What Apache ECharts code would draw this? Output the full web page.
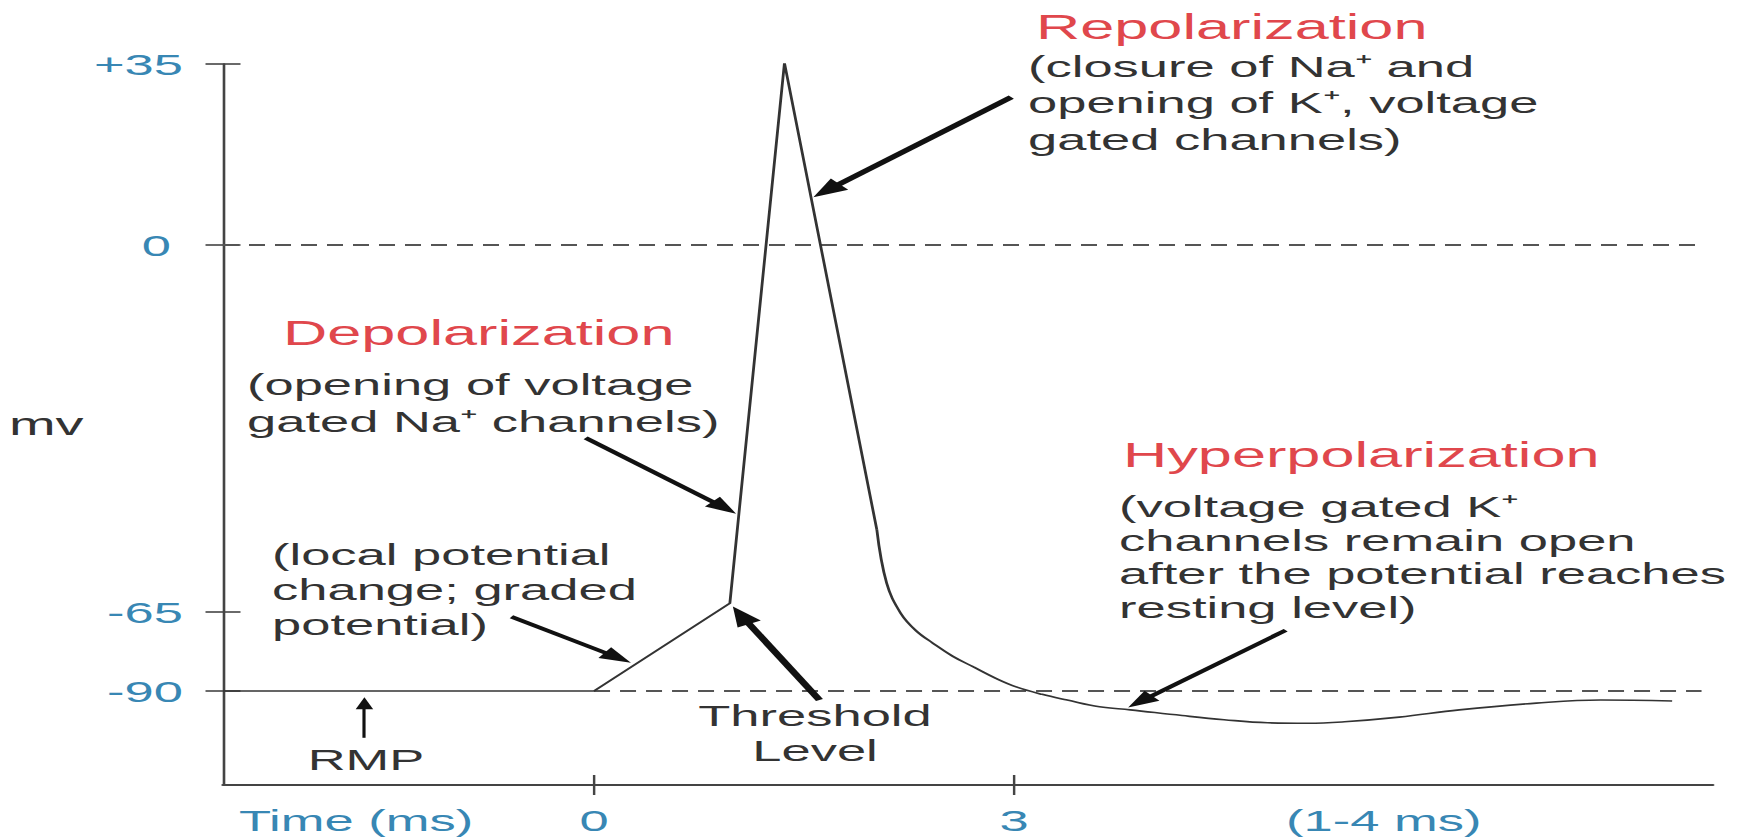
<!DOCTYPE html>
<html lang="en">
<head>
    <meta charset="UTF-8">
    <title>Action potential</title>
    <script src="https://cdn.jsdelivr.net/npm/echarts@6/dist/echarts.min.js"></script>
    <style>
        *{
            padding:0;
            margin:0;
        }
        html,body{
            width:100%;
            height:100%;
            overflow:hidden;
            background:#fff;
        }
        #main{
            height:840px;
            transform-origin:0 0;
        }
    </style>
</head>
<body>
<div id="main"></div>
<script>
    // the source picture is stretched sideways, so the chart is drawn narrow and stretched back
    var S = 1.75;
    var W = 1745 / S;

    // y axis is a schematic (not to scale), ticks sit at these axis levels
    var yTickPos = [35, 0, -71.0, -86.25];
    var yTickLabels = ['+35', '0', '-65', '-90'];
    var xTickPos = [0, 3];
    var xLabelPos = [-1.7, 0, 3, 5.64];
    var xLabelText = ['Time (ms)', '0', '3', '(1-4 ms)'];

    // resting -> graded -> spike -> fall
    var spikeTime = [-2.65, 0, 0.97, 1.36, 2.02];
    var spikeLevel = [-86.25, -86.25, -69.3, 35.2, -55.1];
    // after-potential
    var recoveryTime = [2.02, 2.09, 2.19, 2.30, 2.42, 2.56, 2.71, 2.87, 3.02, 3.20, 3.38, 3.61, 3.83, 4.20, 4.50, 4.81, 5.10, 5.36, 5.75, 6.18, 6.73, 7.19, 7.70];
    var recoveryLevel = [-55.1, -65.4, -71.2, -74.6, -77.0, -79.5, -81.6, -83.8, -85.5, -86.9, -88.0, -89.3, -89.9, -91.0, -91.8, -92.4, -92.5, -92.2, -91.3, -89.9, -88.6, -88.0, -88.2];

    var xMin = -2.65, xMax = 7.99, yMin = -104.43, yMax = 35;
    var guideEnd = 7.91;

    // annotation arrows [from, to] in axis units
    var arrows = [
        {from: [2.98, 28.6], to: [1.66, 10.5], width: 4.5, head: [15, 20]},
        {from: [-0.06, -37.3], to: [0.93, -50.8], width: 3.5, head: [13, 18]},
        {from: [-0.59, -71.9], to: [0.17, -79.8], width: 3.5, head: [13, 18]},
        {from: [1.61, -88.0], to: [1.05, -71.6], width: 4.5, head: [15, 20]},
        {from: [-1.64, -95.3], to: [-1.64, -88.6], width: 1.8, head: [10, 12]},
        {from: [4.94, -74.5], to: [3.9, -88.3], width: 3.5, head: [13, 18]}
    ];

    function zip(a, b) {
        return a.map(function (v, i) { return [v, b[i]]; });
    }
    function px(v) { return v / S; }

    var main = document.getElementById('main');
    main.style.width = W + 'px';
    main.style.transform = 'scaleX(' + S + ')';

    var font = '"Liberation Sans", Arial, sans-serif';
    var blue = '#3887b4';
    var red = '#e0474c';
    var ink = '#333';
    var axisColor = '#444';

    function block(x, y, text, size, color, lh, align) {
        return {
            type: 'text',
            x: px(x),
            y: y,
            silent: true,
            style: {
                text: text,
                fill: color,
                font: size + 'px ' + font,
                lineHeight: lh,
                textAlign: align || 'left',
                textVerticalAlign: 'top'
            }
        };
    }

    var myChart = echarts.init(main, null, {renderer: 'svg'});
    option = {
        animation: false,
        grid: {
            left: px(223),
            right: px(1745 - 1713),
            top: 64,
            bottom: 55,
            outerBoundsMode: 'none'
        },
        xAxis: [
            {
                type: 'value',
                min: xMin,
                max: xMax,
                position: 'bottom',
                axisLine: {onZero: false, lineStyle: {color: axisColor, width: 2}},
                axisTick: {customValues: xTickPos, length: 10, lineStyle: {color: axisColor, width: 1.4}},
                axisLabel: {
                    customValues: xLabelPos,
                    formatter: function (v) {
                        var i = xLabelPos.findIndex(function (p) { return Math.abs(p - v) < 1e-6; });
                        return i >= 0 ? xLabelText[i] : '';
                    },
                    color: blue,
                    fontSize: 30,
                    fontFamily: font,
                    margin: 20
                },
                splitLine: {show: false}
            },
            {
                type: 'value',
                min: xMin,
                max: xMax,
                position: 'bottom',
                axisLine: {show: false, onZero: false},
                axisTick: {inside: true, customValues: xTickPos, length: 10, lineStyle: {color: axisColor, width: 1.4}},
                axisLabel: {show: false},
                splitLine: {show: false}
            }
        ],
        yAxis: [
            {
                type: 'value',
                min: yMin,
                max: yMax,
                position: 'left',
                name: 'mv',
                nameLocation: 'middle',
                nameRotate: 0,
                nameGap: px(107),
                nameTextStyle: {color: ink, fontSize: 32, fontFamily: font},
                axisLine: {onZero: false, lineStyle: {color: axisColor, width: 1.5}},
                axisTick: {customValues: yTickPos, length: 10, lineStyle: {color: axisColor, width: 1.6}},
                axisLabel: {
                    customValues: yTickPos,
                    formatter: function (v) {
                        var i = yTickPos.findIndex(function (p) { return Math.abs(p - v) < 1e-6; });
                        if (i < 0) return '';
                        // the single "0" sits a little further out than the others
                        return i === 1 ? '{z|' + yTickLabels[i] + '}' : yTickLabels[i];
                    },
                    rich: {
                        z: {color: blue, fontSize: 30, fontFamily: font, padding: [0, px(12), 0, 0]}
                    },
                    color: blue,
                    fontSize: 30,
                    fontFamily: font,
                    margin: px(40)
                },
                splitLine: {show: false}
            },
            {
                type: 'value',
                min: yMin,
                max: yMax,
                position: 'left',
                axisLine: {show: false, onZero: false},
                axisTick: {inside: true, customValues: yTickPos, length: 10, lineStyle: {color: axisColor, width: 1.6}},
                axisLabel: {show: false},
                splitLine: {show: false}
            }
        ],
        series: [
            {
                name: 'zero',
                type: 'line',
                data: [[xMin, yTickPos[1]], [guideEnd, yTickPos[1]]],
                symbol: 'none',
                lineStyle: {color: '#555', width: 2, type: [px(16), px(10)]},
                z: 1
            },
            {
                name: 'rest',
                type: 'line',
                data: [[0, yTickPos[3]], [guideEnd, yTickPos[3]]],
                symbol: 'none',
                lineStyle: {color: '#555', width: 2, type: [px(16), px(10)]},
                z: 1
            },
            {
                name: 'spike',
                type: 'line',
                data: zip(spikeTime, spikeLevel),
                symbol: 'none',
                lineStyle: {color: ink, width: 1.6},
                z: 3,
                markLine: {
                    silent: true,
                    animation: false,
                    label: {show: false},
                    emphasis: {disabled: true},
                    data: arrows.map(function (a) {
                        return [
                            {coord: a.from, symbol: 'none', lineStyle: {color: '#111', width: a.width, type: 'solid'}},
                            {coord: a.to, symbol: 'triangle', symbolSize: a.head}
                        ];
                    })
                }
            },
            {
                name: 'recovery',
                type: 'line',
                data: zip(recoveryTime, recoveryLevel),
                smooth: 0.4,
                symbol: 'none',
                lineStyle: {color: ink, width: 1.6},
                z: 3
            }
        ],
        graphic: [
            block(1036, 7, 'Repolarization', 35, red, 40),
            block(1028, 48, '(closure of Na\u207A and\nopening of K\u207A, voltage\ngated channels)', 30, ink, 36.5),
            block(283, 313, 'Depolarization', 35, red, 40),
            block(247, 366, '(opening of voltage\ngated Na\u207A channels)', 30, ink, 37),
            block(272, 537, '(local potential\nchange; graded\npotential)', 30, ink, 35),
            block(815, 698, 'Threshold\nLevel', 30, ink, 35, 'center'),
            block(366, 742, 'RMP', 30, ink, 35, 'center'),
            block(1123, 435, 'Hyperpolarization', 35, red, 40),
            block(1119, 490, '(voltage gated K\u207A\nchannels remain open\nafter the potential reaches\nresting level)', 30, ink, 33.5)
        ]
    };
    myChart.setOption(option);
</script>
</body>
</html>
